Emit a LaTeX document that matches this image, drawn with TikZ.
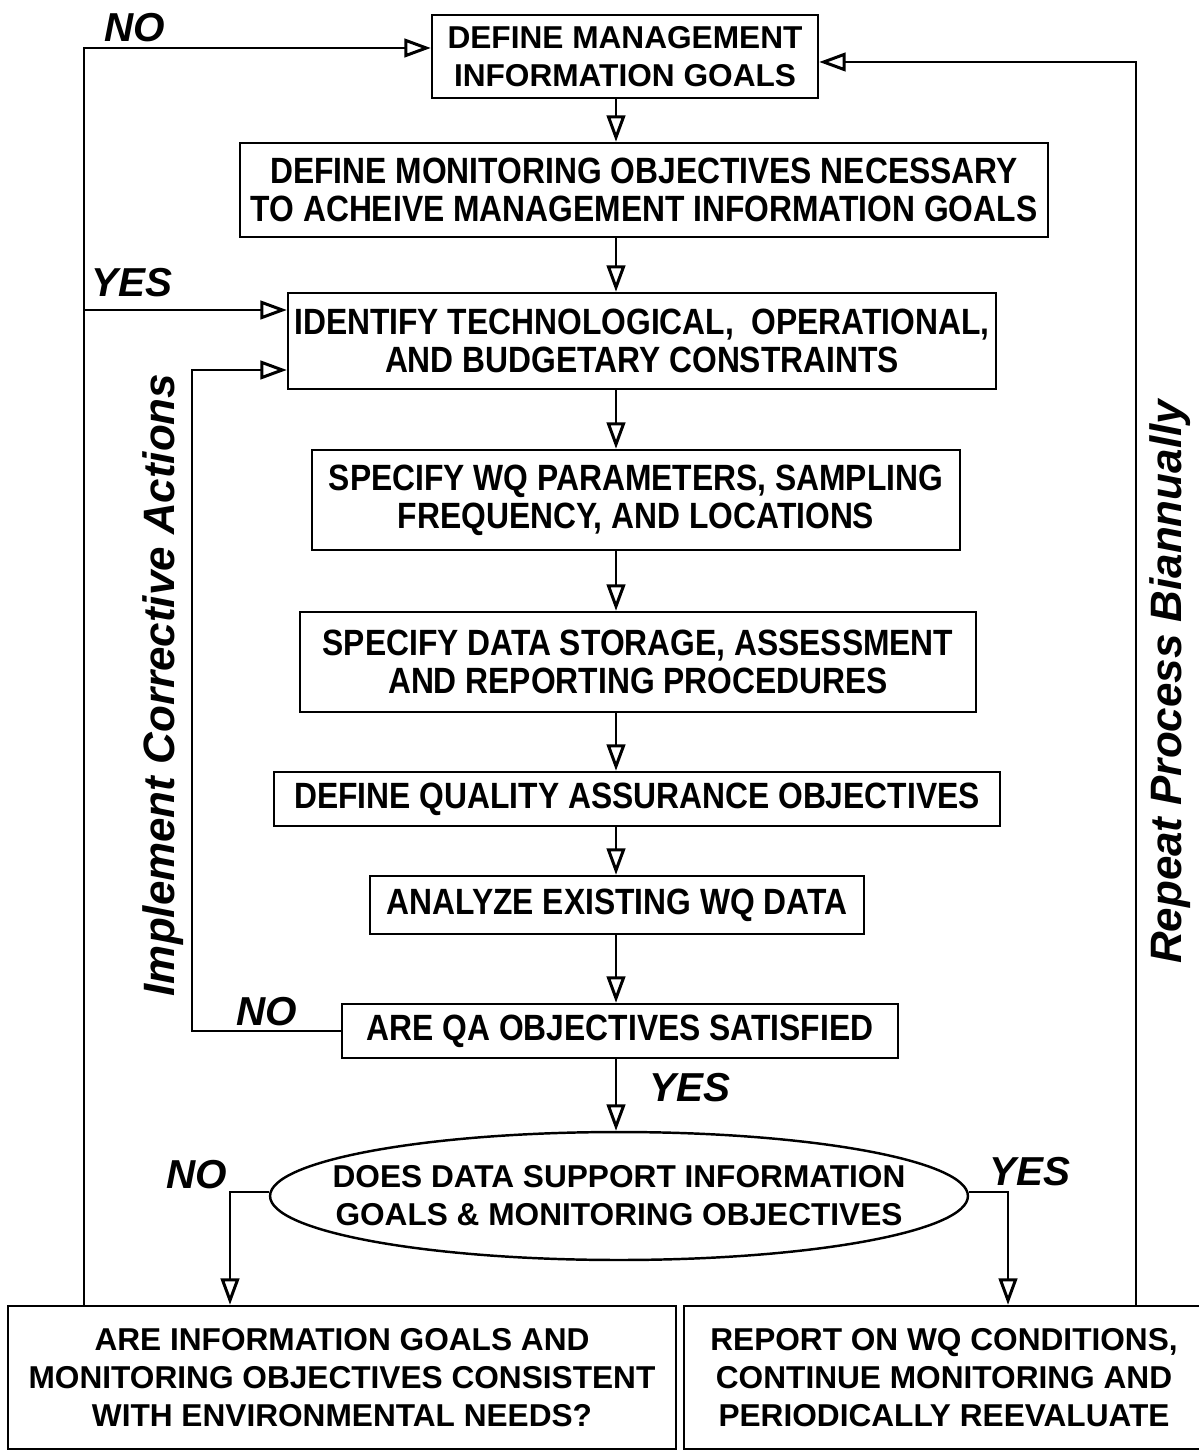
\documentclass[tikz,border=0pt]{standalone}
\usepackage{fontspec}
\setmainfont{Liberation Sans}
\newfontfamily\narrowfont[FakeStretch=0.87]{Liberation Sans}
\usetikzlibrary{arrows.meta,shapes.geometric}

\begin{document}
\begin{tikzpicture}[x=0.02cm,y=-0.02cm,line width=1.4pt,every node/.style={align=center},box/.style={draw,rectangle,inner sep=0pt,font=\fontsize{18}{21.6}\selectfont\bfseries},slim/.style={box,font=\narrowfont\fontsize{20.8}{21.6}\selectfont\bfseries},tag/.style={font=\fontsize{23}{26}\selectfont\bfseries\itshape},sidetag/.style={tag,rotate=90,font=\fontsize{25}{28}\selectfont\bfseries\itshape},flow/.style={-{Triangle[open,length=15pt,width=10.5pt,line width=1.7pt]}}]
\useasboundingbox (0,0) rectangle (1198,1452);
% rails of the loops
\coordinate (spine) at (616,0);
\coordinate (lrail) at (84,0);
\coordinate (crail) at (192,0);
\coordinate (rrail) at (1136,0);
\coordinate (nodrop) at (230,0);
\coordinate (yesdrop) at (1008,0);
% planning steps
\node[box,minimum width=7.72cm,minimum height=1.66cm] (goals) at (625,56.5) {DEFINE MANAGEMENT\\INFORMATION GOALS};
\node[slim,minimum width=16.16cm,minimum height=1.88cm] (objectives) at (644,190) {DEFINE MONITORING OBJECTIVES NECESSARY\\TO ACHEIVE MANAGEMENT INFORMATION GOALS};
\node[slim,minimum width=14.16cm,minimum height=1.92cm] (constraints) at (642,341) {IDENTIFY TECHNOLOGICAL,\ \ OPERATIONAL,\\AND BUDGETARY CONSTRAINTS};
\node[slim,minimum width=12.96cm,minimum height=2cm] (params) at (636,500) {SPECIFY WQ PARAMETERS, SAMPLING\\FREQUENCY, AND LOCATIONS};
\node[slim,minimum width=13.52cm,minimum height=2cm] (storage) at (638,662) {SPECIFY DATA STORAGE, ASSESSMENT\\AND REPORTING PROCEDURES};
\node[slim,minimum width=14.52cm,minimum height=1.08cm] (qaobj) at (637,799) {DEFINE QUALITY ASSURANCE OBJECTIVES};
\node[slim,minimum width=9.88cm,minimum height=1.16cm] (analyze) at (617,905) {ANALYZE EXISTING WQ DATA};
\node[slim,minimum width=11.12cm,minimum height=1.08cm] (qacheck) at (620,1031) {ARE QA OBJECTIVES SATISFIED};
\node[box,ellipse,inner xsep=-0.82cm,minimum width=13.96cm,minimum height=2.56cm] (support) at (619,1196) {DOES DATA SUPPORT INFORMATION\\GOALS \& MONITORING OBJECTIVES};
\node[box,minimum width=13.36cm,minimum height=2.86cm] (consistent) at (342,1377.5) {ARE INFORMATION GOALS AND\\MONITORING OBJECTIVES CONSISTENT\\WITH ENVIRONMENTAL NEEDS?};
\node[box,minimum width=10.4cm,minimum height=2.86cm] (report) at (944,1377.5) {REPORT ON WQ CONDITIONS,\\CONTINUE MONITORING AND\\PERIODICALLY REEVALUATE};
% main chain
\draw[flow] (goals.south -| spine) -- (objectives.north -| spine);
\draw[flow] (objectives.south -| spine) -- (constraints.north -| spine);
\draw[flow] (constraints.south -| spine) -- (params.north -| spine);
\draw[flow] (params.south -| spine) -- (storage.north -| spine);
\draw[flow] (storage.south -| spine) -- (qaobj.north -| spine);
\draw[flow] (qaobj.south -| spine) -- (analyze.north -| spine);
\draw[flow] (analyze.south -| spine) -- (qacheck.north -| spine);
\draw[flow] (qacheck.south -| spine) -- (support.north -| spine);
% decision branches
\draw[flow] ([yshift=0.08cm]support.west) -| (consistent.north -| nodrop);
\draw[flow] ([yshift=0.08cm]support.east) -| (report.north -| yesdrop);
% feedback loops
\draw[flow] (lrail |- consistent.north) |- ([yshift=0.17cm]goals.west);
\draw[flow] ([yshift=0.62cm]constraints.west -| lrail) -- ([yshift=0.62cm]constraints.west);
\draw[flow] (qacheck.west) -| ([yshift=-0.58cm]constraints.west -| crail) -- ([yshift=-0.58cm]constraints.west);
\draw[flow] (rrail |- report.north) |- ([yshift=-0.11cm]goals.east);
% labels
\node[tag] (noTop) at (135,28) {NO};
\node[tag] (yesTop) at (132,283) {YES};
\node[tag] (noQa) at (267,1012) {NO};
\node[tag] (yesQa) at (690,1088) {YES};
\node[tag] (noSupport) at (197,1175) {NO};
\node[tag] (yesSupport) at (1030,1172) {YES};
\node[sidetag] (corrective) at (163,685) {Implement Corrective Actions};
\node[sidetag] (repeat) at (1170,682) {Repeat Process Biannually};
\end{tikzpicture}
\end{document}
